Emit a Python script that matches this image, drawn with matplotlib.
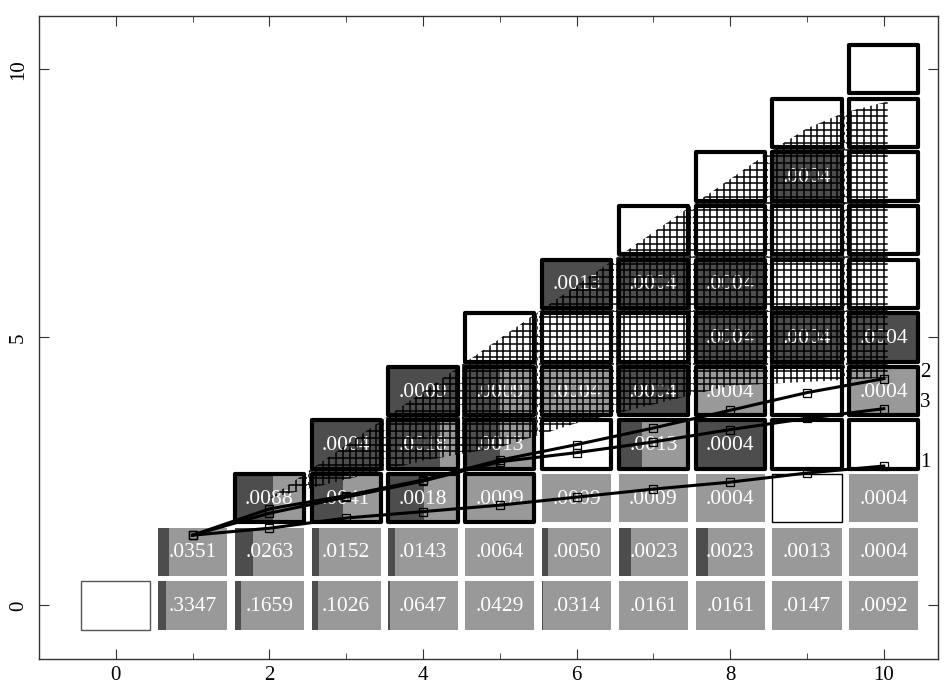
import numpy as np
import matplotlib
matplotlib.use("Agg")
import matplotlib.pyplot as plt
from matplotlib.patches import Rectangle, Polygon
from matplotlib.collections import LineCollection

GRAY, DARK = "#999999", "#4d4d4d"
plt.rcParams.update({"font.family": "Liberation Serif"})

# ---- cell table: one list per row (row index = y); columns start at row_start ----
row_start = [1, 1, 2, 3, 4, 5, 6, 7, 8, 9, 10]
row_labels = [
    [".3347", ".1659", ".1026", ".0647", ".0429", ".0314", ".0161", ".0161", ".0147", ".0092"],
    [".0351", ".0263", ".0152", ".0143", ".0064", ".0050", ".0023", ".0023", ".0013", ".0004"],
    [".0088", ".0041", ".0018", ".0009", ".0009", ".0009", ".0004", "", ".0004"],
    [".0004", ".0018", ".0013", "", ".0013", ".0004", "", ""],
    [".0009", ".0009", ".0004", ".0004", ".0004", "", ".0004"],
    ["", "", "", ".0004", ".0004", ".0004"],
    [".0013", ".0004", ".0004", "", ""],
    ["", "", "", ""],
    ["", ".0004", ""],
    ["", ""],
    [""],
]
# share of the cell shaded dark from the left (None = empty white cell)
row_dark = [
    [0.11, 0.09, 0.09, 0.02, 0, 0.015, 0, 0, 0, 0],
    [0.16, 0.27, 0.10, 0.10, 0, 0.08, 0.18, 0.18, 0, 0],
    [0.56, 0.45, 0.52, 0, 0, 0, 0, None, 0],
    [1, 0.75, 0.5, None, 0.33, 1, None, None],
    [1, 0.5, 0, 1, 0, None, 0],
    [None, None, None, 1, 1, 1],
    [1, 1, 1, None, None],
    [None, None, None, None],
    [None, 1, None],
    [None, None],
    [None],
]
# heavy black outline (1) or not (0)
row_bold = [
    [0] * 10,
    [0] * 10,
    [1, 1, 1, 1, 0, 0, 0, 0, 0],
    [1] * 8, [1] * 7, [1] * 6, [1] * 5, [1] * 4, [1] * 3, [1] * 2, [1],
]
# empty cells with a thin outline: (x, y, edge colour)
thin_cells = [(0, 0, "#555555"), (9, 2, "black")]

# ---- hatched region outline ----
hatch_x = [2.0, 3.0, 4.0, 5.0, 6.0, 7.0, 8.0, 9.0, 10.05, 10.05, 9.5, 9.0, 8.5, 2.0]
hatch_y = [2.0, 2.35, 2.7, 2.95, 3.4, 3.75, 4.1, 4.17, 4.25, 9.4, 9.2, 8.9, 8.45, 2.0]

# ---- three paths ----
path_x = [1, 2, 3, 4, 5, 6, 7, 8, 9, 10]
path_y = {
    "1": [1.31, 1.44, 1.63, 1.75, 1.87, 2.02, 2.17, 2.30, 2.47, 2.60],
    "2": [1.31, 1.80, 2.05, 2.34, 2.71, 3.00, 3.31, 3.64, 3.97, 4.23],
    "3": [1.31, 1.72, 2.02, 2.32, 2.68, 2.85, 3.05, 3.28, 3.49, 3.67],
}
label_dy = {"1": 0.06, "2": 0.12, "3": 0.12}

W = H = 0.9
fig = plt.figure(figsize=(9.49, 6.84), dpi=100)
ax = fig.add_axes([0.041, 0.0365, 0.947, 0.9405])

for y, (x0, labs, darks, bolds) in enumerate(zip(row_start, row_labels, row_dark, row_bold)):
    for k, (lab, d, b) in enumerate(zip(labs, darks, bolds)):
        x = x0 + k
        if d is None:
            ax.add_patch(Rectangle((x - W / 2, y - H / 2), W, H, fc="white", ec="none", zorder=1))
        else:
            ax.add_patch(Rectangle((x - W / 2, y - H / 2), W, H, fc=GRAY, ec="none", zorder=1))
            if d > 0:
                ax.add_patch(Rectangle((x - W / 2, y - H / 2), W * d, H, fc=DARK, ec="none", zorder=1.1))
        if lab:
            ax.text(x, y - 0.02, lab, color="white", fontsize=15.5, ha="center", va="center", zorder=2)
        if b:
            ax.add_patch(Rectangle((x - W / 2, y - H / 2), W, H, fill=False, ec="black", lw=3.0,
                                   joinstyle="round", zorder=4))

for x, y, c in thin_cells:
    ax.add_patch(Rectangle((x - W / 2, y - H / 2), W, H, fc="white", ec=c, lw=1.0, zorder=1.2))

# cross-hatch texture clipped to the region
poly = Polygon(np.column_stack([hatch_x, hatch_y]), closed=True, fc="none", ec="none", zorder=3)
ax.add_patch(poly)
gx = np.arange(min(hatch_x), max(hatch_x) + 0.1, 0.087)
gy = np.arange(min(hatch_y), max(hatch_y) + 0.1, 0.125)
segs = [[(v, gy[0]), (v, gy[-1])] for v in gx] + [[(gx[0], v), (gx[-1], v)] for v in gy]
hatch = LineCollection(segs, colors="black", linewidths=1.1, zorder=3)
ax.add_collection(hatch)
hatch.set_clip_path(poly)
for cx in np.arange(1.5, 10.5, 1.0):
    ln, = ax.plot([cx, cx], [1, 10], color="white", lw=1.4, ls=(0, (2.5, 1.5)), zorder=3.5)
    ln.set_clip_path(poly)

for name, ys in path_y.items():
    ax.plot(path_x, ys, color="black", lw=2.2, marker="s", ms=5.5, mfc="none", mec="black",
            mew=0.9, zorder=5)
    ax.text(path_x[-1] + 0.47, ys[-1] + label_dy[name], name, fontsize=15, ha="left",
            va="center", zorder=5)

ax.set_xlim(-1, 10.7)
ax.set_ylim(-1, 11)
ax.set_xticks([0, 2, 4, 6, 8, 10])
ax.set_xticks([1, 3, 5, 7, 9], minor=True)
ax.set_yticks([0, 5, 10])
ax.tick_params(which="both", direction="in", top=True, right=True, labelsize=15, color="#333333")
ax.tick_params(which="major", length=7)
ax.tick_params(which="minor", length=4)
ax.tick_params(axis="x", pad=5)
ax.tick_params(axis="y", pad=8)
for t in ax.get_yticklabels():
    t.set_rotation(90)
    t.set_va("center")
for s in ax.spines.values():
    s.set_color("#333333")
    s.set_linewidth(1.0)

fig.savefig("out.png", dpi=100, facecolor="white")
